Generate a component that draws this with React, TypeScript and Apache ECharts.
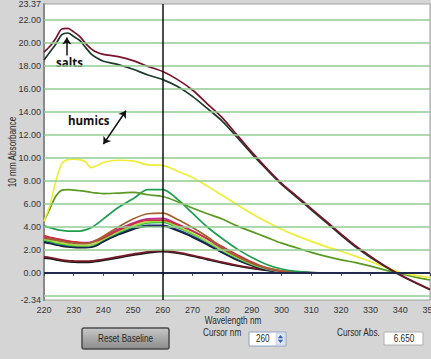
import React, { useEffect, useRef } from "react";
import * as echarts from "echarts";

const wavelengths = [220, 222, 224, 226, 228, 230, 232, 234, 236, 238, 240, 245, 250, 255, 260, 265, 270, 275, 280, 285, 290, 295, 300, 305, 310, 315, 320, 325, 330, 335, 340, 345, 350];

const saltsTop = [19.2, 19.7, 20.4, 21.2, 21.25, 20.95, 20.55, 19.95, 19.45, 19.15, 19.0, 18.8, 18.45, 17.95, 17.5, 16.8, 15.9, 14.7, 13.5, 12.0, 10.5, 9.1, 7.8, 6.7, 5.6, 4.5, 3.4, 2.35, 1.45, 0.6, -0.15, -0.8, -1.4];
const saltsBottom = [18.5, 19.2, 19.9, 20.7, 20.85, 20.55, 20.2, 19.6, 19.0, 18.65, 18.4, 18.1, 17.7, 17.2, 16.8, 16.2, 15.35, 14.3, 13.2, 11.8, 10.35, 9.0, 7.7, 6.6, 5.5, 4.4, 3.3, 2.25, 1.35, 0.55, -0.2, -0.85, -1.45];
const yellowHumic = [4.5, 5.9, 8.0, 9.5, 9.85, 9.9, 9.85, 9.65, 9.15, 9.35, 9.6, 9.8, 9.75, 9.4, 9.35, 8.85, 8.3, 7.55, 6.75, 5.95, 5.15, 4.45, 3.8, 3.25, 2.75, 2.3, 1.9, 1.45, 1.0, 0.5, 0.05, -0.2, -0.4];
const oliveHumic = [4.5, 5.6, 6.7, 7.2, 7.25, 7.2, 7.15, 7.1, 7.0, 6.95, 6.9, 6.95, 7.0, 6.8, 6.65, 6.2, 5.65, 5.15, 4.7, 4.1, 3.6, 3.1, 2.6, 2.2, 1.8, 1.45, 1.15, 0.9, 0.6, 0.25, -0.05, -0.35, -0.6];
const greenSample = [4.1, 3.95, 3.8, 3.7, 3.65, 3.65, 3.65, 3.75, 3.95, 4.3, 4.7, 5.7, 6.45, 7.25, 7.25, 6.4, 5.2, 4.0, 3.0, 2.1, 1.35, 0.75, 0.35, 0.15, 0.05, 0, 0, 0, 0, 0, 0, 0, 0];
const brownSample = [3.0, 2.95, 2.85, 2.75, 2.65, 2.6, 2.55, 2.55, 2.65, 2.9, 3.2, 4.0, 4.7, 5.15, 5.2, 4.65, 3.95, 3.15, 2.2, 1.45, 0.85, 0.45, 0.2, 0.07, 0.02, 0, 0, 0, 0, 0, 0, 0, 0];
const redSample = [3.25, 3.1, 3.0, 2.9, 2.8, 2.72, 2.65, 2.62, 2.65, 2.8, 3.05, 3.7, 4.25, 4.6, 4.6, 4.2, 3.65, 3.0, 2.3, 1.6, 0.95, 0.45, 0.17, 0.06, 0.02, 0, 0, 0, 0, 0, 0, 0, 0];
const magentaSample = [3.15, 3.05, 2.95, 2.85, 2.75, 2.7, 2.65, 2.65, 2.7, 2.9, 3.15, 3.8, 4.35, 4.7, 4.75, 4.25, 3.65, 2.95, 2.15, 1.45, 0.85, 0.4, 0.15, 0.05, 0.01, 0, 0, 0, 0, 0, 0, 0, 0];
const limeSample = [2.95, 2.85, 2.7, 2.6, 2.5, 2.45, 2.4, 2.4, 2.45, 2.65, 2.95, 3.6, 4.1, 4.45, 4.5, 4.05, 3.45, 2.75, 2.0, 1.35, 0.8, 0.38, 0.12, 0.04, 0, 0, 0, 0, 0, 0, 0, 0, 0];
const brightGreenSample = [2.85, 2.75, 2.6, 2.5, 2.42, 2.38, 2.35, 2.35, 2.4, 2.6, 2.9, 3.5, 4.0, 4.35, 4.4, 3.95, 3.38, 2.7, 1.95, 1.3, 0.75, 0.35, 0.1, 0.03, 0, 0, 0, 0, 0, 0, 0, 0, 0];
const navySample = [2.75, 2.65, 2.52, 2.42, 2.35, 2.3, 2.28, 2.28, 2.32, 2.5, 2.8, 3.4, 3.88, 4.15, 4.15, 3.75, 3.2, 2.55, 1.85, 1.2, 0.7, 0.3, 0.1, 0.03, 0, 0, 0, 0, 0, 0, 0, 0, 0];
const blackSample = [2.67, 2.57, 2.44, 2.34, 2.27, 2.22, 2.2, 2.2, 2.24, 2.42, 2.72, 3.32, 3.8, 4.07, 4.07, 3.67, 3.12, 2.47, 1.78, 1.14, 0.65, 0.27, 0.08, 0.02, 0, 0, 0, 0, 0, 0, 0, 0, 0];
const lowMaroon = [1.4, 1.35, 1.25, 1.15, 1.08, 1.05, 1.03, 1.03, 1.05, 1.12, 1.2, 1.42, 1.65, 1.85, 1.95, 1.8, 1.55, 1.25, 0.95, 0.68, 0.45, 0.28, 0.15, 0.08, 0.03, 0.01, 0, 0, 0, 0, 0, 0, 0];
const lowBlack = [1.3, 1.25, 1.15, 1.05, 0.98, 0.95, 0.93, 0.93, 0.95, 1.02, 1.1, 1.32, 1.55, 1.76, 1.87, 1.72, 1.47, 1.17, 0.88, 0.62, 0.4, 0.24, 0.12, 0.06, 0.02, 0, 0, 0, 0, 0, 0, 0, 0];

const gridLevels = [-2, 2, 4, 6, 8, 10, 12, 14, 16, 18, 20, 22];
const yLabelValues = [-2.34, 0, 2, 4, 6, 8, 10, 12, 14, 16, 18, 20, 22, 23.37];
const yMin = -2.34;
const yMax = 23.37;
const xMin = 220;
const xMax = 350;
const cursorNm = 260;
const cursorAbs = "6.650";
const saltsArrow = [[227.7, 18.9], [227.7, 20.45]];
const humicsArrow = [[240.0, 11.2], [247.6, 14.1]];

const FONT = "'Liberation Sans', Arial, sans-serif";
const BOLD_FONT = "'Open Sans', 'DejaVu Sans', sans-serif";
const NARROW = 0.82;

const curves = [
  { name: "low black", data: lowBlack, color: "#1e1a1a" },
  { name: "low maroon", data: lowMaroon, color: "#7a1a26" },
  { name: "black", data: blackSample, color: "#151a22" },
  { name: "navy", data: navySample, color: "#1c2f6e" },
  { name: "bright green", data: brightGreenSample, color: "#2fbf3c" },
  { name: "lime", data: limeSample, color: "#a6dc46" },
  { name: "magenta", data: magentaSample, color: "#c22aa0" },
  { name: "red", data: redSample, color: "#c8343c" },
  { name: "brown", data: brownSample, color: "#a2622e" },
  { name: "green", data: greenSample, color: "#209e50" },
  { name: "olive", data: oliveHumic, color: "#5a9a22" },
  { name: "yellow", data: yellowHumic, color: "#eeee36" },
  { name: "salts bottom", data: saltsBottom, color: "#1c3b2a" },
  { name: "salts top", data: saltsTop, color: "#7a1428" },
];

function label(text: string, x: number, y: number, align: string, extra: any = {}) {
  return {
    type: "text",
    x,
    y,
    scaleX: NARROW,
    ...extra,
    style: { text, font: `10px ${FONT}`, fill: "#2a2a2a", align, verticalAlign: "middle" },
  };
}

export default function App() {
  const ref = useRef<HTMLDivElement>(null);

  useEffect(() => {
    if (!ref.current) return;
    const chart = echarts.init(ref.current, null, { renderer: "svg" });

    const lineSeries: any[] = curves.map((c) => ({
      name: c.name,
      type: "line",
      z: 3,
      data: wavelengths.map((w, i) => [w, c.data[i]]),
      showSymbol: false,
      smooth: 0.3,
      lineStyle: { color: c.color, width: 1.7 },
      itemStyle: { color: c.color },
      silent: true,
    }));

    const series: any[] = [
      {
        name: "grid",
        type: "line",
        z: 1,
        data: [],
        silent: true,
        markLine: {
          silent: true,
          symbol: "none",
          label: { show: false },
          lineStyle: { color: "#93cc93", width: 1.6, type: "solid" },
          data: gridLevels.map((v) => ({ yAxis: v })),
        },
      },
      ...lineSeries,
      {
        name: "cursor",
        type: "line",
        z: 5,
        data: [],
        silent: true,
        markLine: {
          silent: true,
          symbol: "none",
          label: { show: false },
          data: [
            { yAxis: 0, lineStyle: { color: "#1f2a4c", width: 2, type: "solid" } },
            { xAxis: cursorNm, lineStyle: { color: "#111111", width: 1.5, type: "solid" } },
          ],
        },
      },
      {
        name: "salts arrow",
        type: "line",
        z: 6,
        data: [],
        silent: true,
        markLine: {
          silent: true,
          symbol: ["none", "arrow"],
          symbolSize: 7,
          label: { show: false },
          lineStyle: { color: "#111", width: 1.5, type: "solid" },
          data: [[{ coord: saltsArrow[0] }, { coord: saltsArrow[1] }]],
        },
      },
      {
        name: "humics arrow",
        type: "line",
        z: 6,
        data: [],
        silent: true,
        markLine: {
          silent: true,
          symbol: ["arrow", "arrow"],
          symbolSize: 7,
          label: { show: false },
          lineStyle: { color: "#111", width: 1.5, type: "solid" },
          data: [[{ coord: humicsArrow[0] }, { coord: humicsArrow[1] }]],
        },
      },
    ];

    chart.setOption({
      animation: false,
      backgroundColor: "#d5d5d5",
      grid: {
        left: 44,
        right: 1,
        top: 4,
        bottom: 59,
        containLabel: false,
        outerBoundsMode: "none",
        show: true,
        backgroundColor: "#ffffff",
        borderColor: "#a0a0a0",
        borderWidth: 1,
      },
      xAxis: {
        type: "value",
        min: xMin,
        max: xMax,
        interval: 10,
        axisLine: { show: false },
        axisTick: { show: true, length: 3, lineStyle: { color: "#555" } },
        axisLabel: { fontSize: 9, color: "#333", margin: 5, fontFamily: FONT, showMaxLabel: true, hideOverlap: false },
        splitLine: { show: false },
      },
      yAxis: {
        type: "value",
        min: yMin,
        max: yMax,
        axisLine: { show: true, onZero: false, lineStyle: { color: "#8a8a8a", width: 2 } },
        axisTick: { show: false },
        splitLine: { show: false },
        axisLabel: {
          customValues: yLabelValues,
          formatter: (v: number) => v.toFixed(2),
          fontSize: 9,
          color: "#333",
          margin: 3,
          fontFamily: FONT,
          showMinLabel: true,
          showMaxLabel: true,
        },
      },
      graphic: [
        label("10 mm Absorbance", 13, 152, "center", { rotation: Math.PI / 2 }),
        {
          type: "text",
          x: 56,
          y: 62,
          style: { text: "salts", font: `bold 11.5px ${BOLD_FONT}`, fill: "#111", align: "left", verticalAlign: "middle" },
        },
        {
          type: "text",
          x: 68,
          y: 120,
          style: { text: "humics", font: `bold 11.5px ${BOLD_FONT}`, fill: "#111", align: "left", verticalAlign: "middle" },
        },
        label("Wavelength nm", 233, 321, "center"),
        {
          type: "rect",
          shape: { x: 82, y: 328, width: 87, height: 21, r: 2 },
          style: {
            fill: new echarts.graphic.LinearGradient(0, 0, 0, 1, [
              { offset: 0, color: "#c9c9c9" },
              { offset: 0.5, color: "#a9a9a9" },
              { offset: 1, color: "#8c8c8c" },
            ]),
            stroke: "#4a4a4a",
            lineWidth: 1.5,
          },
        },
        label("Reset Baseline", 125.5, 338.5, "center"),
        label("Cursor nm", 203, 333, "left"),
        {
          type: "rect",
          shape: { x: 249, y: 332, width: 37, height: 14 },
          style: { fill: "#ffffff", stroke: "#8ea2c2", lineWidth: 1 },
        },
        label(String(cursorNm), 256, 339, "left"),
        {
          type: "rect",
          shape: { x: 276, y: 333, width: 9, height: 12 },
          style: { fill: "#dfe6f2", stroke: "#b8c4d8", lineWidth: 0.5 },
        },
        {
          type: "polygon",
          shape: { points: [[277.8, 338.3], [283.2, 338.3], [280.5, 335]] },
          style: { fill: "#3a5cae" },
        },
        {
          type: "polygon",
          shape: { points: [[277.8, 339.8], [283.2, 339.8], [280.5, 343]] },
          style: { fill: "#3a5cae" },
        },
        label("Cursor Abs.", 337, 333, "left"),
        {
          type: "rect",
          shape: { x: 384, y: 332, width: 39, height: 13 },
          style: { fill: "#ffffff", stroke: "#b0b0b0", lineWidth: 1 },
        },
        label(cursorAbs, 404, 338.5, "center"),
      ],
      series,
    });

    return () => chart.dispose();
  }, []);

  return (
    <div style={{ position: "fixed", left: 0, top: 0, width: 431, height: 359, background: "#d5d5d5" }}>
      <div ref={ref} style={{ width: 431, height: 359 }} />
    </div>
  );
}
